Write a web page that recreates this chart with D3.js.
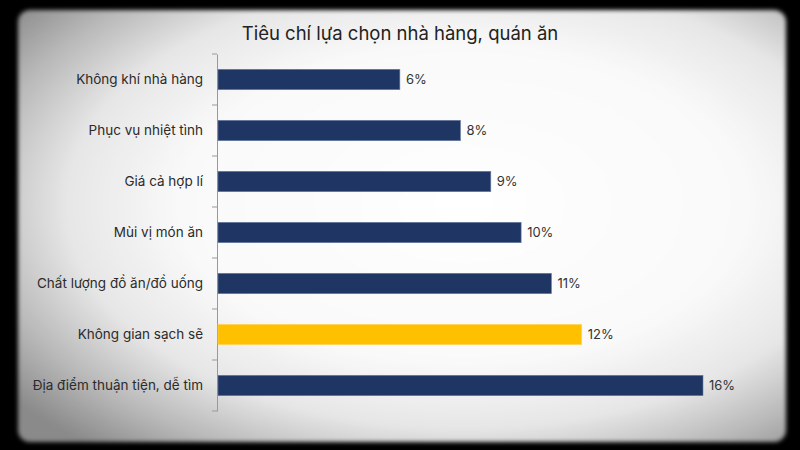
<!DOCTYPE html>
<html lang="vi">
<head>
    <meta charset="UTF-8">
    <title>Tiêu chí lựa chọn nhà hàng, quán ăn</title>
    <script src="https://cdn.jsdelivr.net/npm/d3@7"></script>
    <style>
        html, body { margin: 0; padding: 0; background: #000; }
        svg { display: block; font-family: Inter, "Noto Sans", sans-serif; }
    </style>
</head>
<body>
<div id="chart"></div>
<script>
    const width = 800;
    const height = 450;

    const categories = [
        "Không khí nhà hàng",
        "Phục vụ nhiệt tình",
        "Giá cả hợp lí",
        "Mùi vị món ăn",
        "Chất lượng đồ ăn/đồ uống",
        "Không gian sạch sẽ",
        "Địa điểm thuận tiện, dễ tìm"
    ];
    const values = [6, 8, 9, 10, 11, 12, 16];
    const highlight = "Không gian sạch sẽ";

    const margin = {top: 54, right: 97, bottom: 39, left: 217};

    const svg = d3.select("#chart").append("svg")
        .attr("width", width)
        .attr("height", height)
        .attr("viewBox", [0, 0, width, height]);

    // vignette background
    const defs = svg.append("defs");
    const grad = defs.append("radialGradient")
        .attr("id", "vig")
        .attr("cx", "0.58").attr("cy", "0.45").attr("r", "0.74");
    grad.append("stop").attr("offset", "0%").attr("stop-color", "#ffffff");
    grad.append("stop").attr("offset", "50%").attr("stop-color", "#f9f9f9");
    grad.append("stop").attr("offset", "70%").attr("stop-color", "#e6e6e6");
    grad.append("stop").attr("offset", "86%").attr("stop-color", "#b8b8b8");
    grad.append("stop").attr("offset", "100%").attr("stop-color", "#8a8a8a");
    defs.append("filter").attr("id", "soft")
        .attr("x", "-5%").attr("y", "-5%").attr("width", "110%").attr("height", "110%")
        .append("feGaussianBlur").attr("stdDeviation", 2.2);

    svg.append("rect")
        .attr("width", width).attr("height", height)
        .attr("fill", "#000");
    svg.append("rect")
        .attr("x", 18).attr("y", 10)
        .attr("width", 768).attr("height", 432)
        .attr("rx", 12)
        .attr("fill", "url(#vig)")
        .attr("filter", "url(#soft)");

    svg.append("text")
        .attr("x", 400)
        .attr("y", 40)
        .attr("text-anchor", "middle")
        .attr("font-size", 18.5)
        .attr("fill", "#222")
        .text("Tiêu chí lựa chọn nhà hàng, quán ăn");

    const x = d3.scaleLinear()
        .domain([0, 16])
        .range([margin.left + 1, margin.left + 486]);

    const y = d3.scaleBand()
        .domain(categories)
        .range([margin.top, height - margin.bottom])
        .paddingInner(0.6)
        .paddingOuter(0.3);

    const yAxis = d3.axisLeft(y).tickSize(0).tickPadding(14);
    const gy = svg.append("g")
        .attr("transform", "translate(" + margin.left + ",0)")
        .call(yAxis);
    gy.select(".domain").attr("stroke", "#999");
    gy.selectAll("text")
        .attr("font-size", 13.5)
        .attr("fill", "#2b2b2b")
        .attr("font-family", "Inter, 'Noto Sans', sans-serif");

    // tick marks between categories
    const bounds = d3.range(categories.length + 1).map(i => margin.top + i * (height - margin.bottom - margin.top) / categories.length);
    svg.append("g").selectAll("line")
        .data(bounds)
        .join("line")
        .attr("x1", margin.left - 5)
        .attr("x2", margin.left)
        .attr("y1", d => d)
        .attr("y2", d => d)
        .attr("stroke", "#999");

    svg.append("g").selectAll("rect")
        .data(values)
        .join("rect")
        .attr("x", x(0))
        .attr("y", (d, i) => y(categories[i]))
        .attr("width", d => x(d) - x(0))
        .attr("height", y.bandwidth())
        .attr("fill", (d, i) => categories[i] === highlight ? "#ffc000" : "#1f3563")
        .attr("stroke", (d, i) => categories[i] === highlight ? "#ffd866" : "#6b7fa6")
        .attr("stroke-width", 0.6);

    svg.append("g").selectAll("text")
        .data(values)
        .join("text")
        .attr("x", d => x(d) + 6)
        .attr("y", (d, i) => y(categories[i]) + y.bandwidth() / 2)
        .attr("dy", "0.35em")
        .attr("font-size", 13)
        .attr("fill", "#333")
        .text(d => d + "%");
</script>
</body>
</html>
